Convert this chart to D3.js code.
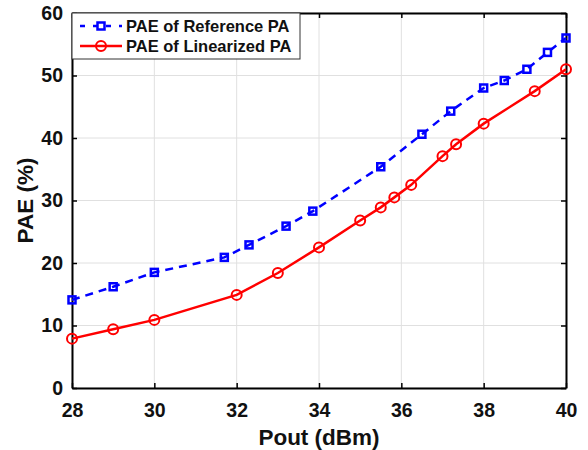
<!DOCTYPE html>
<html>
<head>
<meta charset="utf-8">
<script src="https://cdn.jsdelivr.net/npm/d3@7"></script>
<style>
  body { margin: 0; background: #fff; }
  text { font-family: Arial, "Liberation Sans", sans-serif; font-weight: bold; }
</style>
</head>
<body>
<div id="chart"></div>
<script>
// PAE of reference PA (blue dashed, squares)
const refPout = [28, 29, 30, 31.7, 32.3, 33.2, 33.85, 35.5, 36.5, 37.2, 38, 38.5, 39.05, 39.55, 40];
const refPae = [14.1, 16.2, 18.5, 20.9, 22.9, 25.9, 28.3, 35.4, 40.6, 44.3, 48.0, 49.2, 51.0, 53.7, 56.0];
// PAE of linearized PA (red solid, circles)
const linPout = [28, 29, 30, 32, 33, 34, 35, 35.5, 35.83, 36.24, 37, 37.33, 38, 39.24, 40];
const linPae = [7.9, 9.4, 10.9, 14.9, 18.4, 22.5, 26.8, 28.9, 30.5, 32.5, 37.1, 39.0, 42.3, 47.5, 51.0];
const xTicks = [28, 30, 32, 34, 36, 38, 40];
const yTicks = [0, 10, 20, 30, 40, 50, 60];
const seriesNames = ['PAE of Reference PA', 'PAE of Linearized PA'];

const width = 588, height = 450;
const margin = {top: 13, right: 22, bottom: 62, left: 72};

const svg = d3.select('#chart').append('svg')
  .attr('width', width)
  .attr('height', height);

const x = d3.scaleLinear().domain([28, 40]).range([margin.left, width - margin.right]);
const y = d3.scaleLinear().domain([0, 60]).range([height - margin.bottom, margin.top]);

// grid
const grid = svg.append('g');
grid.selectAll('.vx').data(xTicks).enter().append('line')
  .attr('x1', d => x(d)).attr('x2', d => x(d))
  .attr('y1', y(0)).attr('y2', y(60))
  .attr('stroke', '#e0e0e0').attr('stroke-width', 1);
grid.selectAll('.hy').data(yTicks).enter().append('line')
  .attr('x1', x(28)).attr('x2', x(40))
  .attr('y1', d => y(d)).attr('y2', d => y(d))
  .attr('stroke', '#e0e0e0').attr('stroke-width', 1);

// axes
const xAxis = svg.append('g')
  .attr('transform', `translate(0,${y(0)})`)
  .call(d3.axisBottom(x).tickValues(xTicks).tickSizeInner(-5).tickSizeOuter(0).tickPadding(15));
const yAxis = svg.append('g')
  .attr('transform', `translate(${x(28)},0)`)
  .call(d3.axisLeft(y).tickValues(yTicks).tickSizeInner(-5).tickSizeOuter(0).tickPadding(9));
const xTop = svg.append('g')
  .attr('transform', `translate(0,${y(60)})`)
  .call(d3.axisTop(x).tickValues(xTicks).tickSizeInner(-5).tickSizeOuter(0).tickFormat(''));
const yRight = svg.append('g')
  .attr('transform', `translate(${x(40)},0)`)
  .call(d3.axisRight(y).tickValues(yTicks).tickSizeInner(-5).tickSizeOuter(0).tickFormat(''));

[xAxis, yAxis, xTop, yRight].forEach(a => {
  a.select('.domain').attr('stroke', '#000').attr('stroke-width', 2);
  a.selectAll('.tick line').attr('stroke', '#000').attr('stroke-width', 1.5);
  a.selectAll('.tick text').attr('font-size', 19.5).attr('font-weight', 'bold').attr('fill', '#111')
    .attr('font-family', 'Arial, "Liberation Sans", sans-serif');
});

// axis labels
svg.append('text')
  .attr('x', x(34)).attr('y', 445)
  .attr('text-anchor', 'middle')
  .attr('font-size', 22.5)
  .attr('fill', '#111')
  .text('Pout (dBm)');
svg.append('text')
  .attr('transform', `translate(33,${y(30)}) rotate(-90)`)
  .attr('text-anchor', 'middle')
  .attr('font-size', 22.5)
  .attr('fill', '#111')
  .text('PAE (%)');

const line = d3.line().x(d => x(d[0])).y(d => y(d[1]));
const refData = refPout.map((p, i) => [p, refPae[i]]);
const linData = linPout.map((p, i) => [p, linPae[i]]);

// reference PA
svg.append('path')
  .datum(refData)
  .attr('d', line)
  .attr('fill', 'none')
  .attr('stroke', '#0000ff')
  .attr('stroke-width', 2.5)
  .attr('stroke-dasharray', '8,6');
svg.selectAll('.sq').data(refData).enter().append('rect')
  .attr('x', d => x(d[0]) - 3.5)
  .attr('y', d => y(d[1]) - 3.5)
  .attr('width', 7).attr('height', 7)
  .attr('fill', 'none')
  .attr('stroke', '#0000ff')
  .attr('stroke-width', 2.5);

// linearized PA
svg.append('path')
  .datum(linData)
  .attr('d', line)
  .attr('fill', 'none')
  .attr('stroke', '#ff0000')
  .attr('stroke-width', 2.5);
svg.selectAll('.ci').data(linData).enter().append('circle')
  .attr('cx', d => x(d[0]))
  .attr('cy', d => y(d[1]))
  .attr('r', 5)
  .attr('fill', 'none')
  .attr('stroke', '#ff0000')
  .attr('stroke-width', 2);

// legend
const lg = svg.append('g');
lg.append('rect')
  .attr('x', x(28)).attr('y', y(60))
  .attr('width', 228).attr('height', 46)
  .attr('fill', '#fff')
  .attr('stroke', '#333')
  .attr('stroke-width', 1);
const rows = [
  {name: seriesNames[0], color: '#0000ff', dash: '8,6', marker: 'square'},
  {name: seriesNames[1], color: '#ff0000', dash: null, marker: 'circle'}
];
rows.forEach((r, i) => {
  const cy = y(60) + 13 + i * 20;
  const l = lg.append('line')
    .attr('x1', 80).attr('x2', 122)
    .attr('y1', cy).attr('y2', cy)
    .attr('stroke', r.color).attr('stroke-width', 2.5);
  if (r.dash) l.attr('stroke-dasharray', '5,8');
  if (r.marker === 'square') {
    lg.append('rect').attr('x', 101 - 3.5).attr('y', cy - 3.5).attr('width', 7).attr('height', 7)
      .attr('fill', 'none').attr('stroke', r.color).attr('stroke-width', 2.5);
  } else {
    lg.append('circle').attr('cx', 101).attr('cy', cy).attr('r', 5)
      .attr('fill', 'none').attr('stroke', r.color).attr('stroke-width', 2);
  }
  lg.append('text')
    .attr('x', 126).attr('y', cy + 6)
    .attr('font-size', 16.5)
    .attr('fill', '#111')
    .text(r.name);
});
</script>
</body>
</html>
